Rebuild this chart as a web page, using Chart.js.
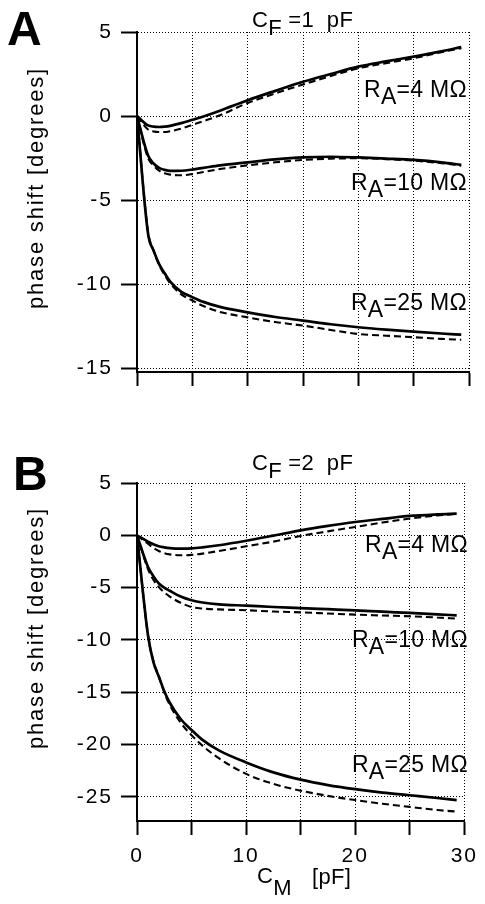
<!DOCTYPE html>
<html>
<head>
<meta charset="utf-8">
<script src="https://cdn.jsdelivr.net/npm/chart.js@4.4.1/dist/chart.umd.min.js"></script>
<style>
  html, body { margin: 0; padding: 0; background: #fff; }
  body { width: 485px; height: 904px; position: relative; overflow: hidden; }
  .panel { position: absolute; left: 0; width: 485px; }
  #panelA { top: 0; height: 420px; }
  #panelB { top: 440px; height: 464px; }
</style>
</head>
<body>
<div class="panel" id="panelA"><canvas id="chartA"></canvas></div>
<div class="panel" id="panelB"><canvas id="chartB"></canvas></div>
<script>
// Phase shift vs. membrane capacitance for three access resistances,
// two feedback capacitances. Solid = one model, dashed = the other.
const FONT = '"Liberation Sans", Arial, Helvetica, sans-serif';

// C_M [pF] where every curve is sampled
const cm = [0, 1, 1.5, 2, 2.5, 3, 4, 5, 6, 7.5, 10, 12.5, 15, 17.5, 20, 22.5, 25, 27.5, 29.3];

// panel A, C_F = 1 pF  (phase shift, degrees)
const a4Solid = [0, -0.55, -0.63, -0.65, -0.63, -0.58, -0.42, -0.22, -0.02, 0.32, 0.94, 1.5, 2.04, 2.5, 2.94, 3.25, 3.54, 3.85, 4.1];
const a4Dashed = [0, -0.8, -0.92, -0.95, -0.95, -0.9, -0.75, -0.52, -0.3, 0.05, 0.78, 1.35, 1.88, 2.38, 2.84, 3.15, 3.44, 3.8, 4.04];
const a10Solid = [0, -2.35, -2.82, -3.08, -3.2, -3.26, -3.25, -3.18, -3.08, -2.93, -2.75, -2.58, -2.46, -2.42, -2.46, -2.53, -2.61, -2.75, -2.9];
const a10Dashed = [0, -2.5, -2.95, -3.25, -3.4, -3.48, -3.52, -3.45, -3.33, -3.15, -2.93, -2.75, -2.61, -2.53, -2.51, -2.56, -2.65, -2.8, -2.95];
const a25Solid = [0, -7.0, -8.0, -8.8, -9.35, -9.85, -10.45, -10.77, -11.05, -11.35, -11.67, -11.95, -12.16, -12.38, -12.56, -12.7, -12.82, -12.93, -13.0];
const a25Dashed = [0, -6.9, -8.0, -8.85, -9.45, -9.95, -10.6, -10.97, -11.3, -11.65, -11.97, -12.25, -12.46, -12.72, -12.96, -13.06, -13.15, -13.25, -13.3];

// panel B, C_F = 2 pF
const b4Solid = [0, -0.6, -0.85, -1.05, -1.15, -1.22, -1.27, -1.25, -1.15, -0.95, -0.52, -0.03, 0.48, 0.9, 1.27, 1.57, 1.85, 2.0, 2.07];
const b4Dashed = [0, -0.8, -1.2, -1.5, -1.7, -1.82, -1.91, -1.87, -1.75, -1.5, -1.05, -0.6, -0.06, 0.38, 0.8, 1.22, 1.6, 1.9, 2.05];
const b10Solid = [0, -3.0, -3.9, -4.6, -5.0, -5.3, -5.85, -6.2, -6.42, -6.6, -6.72, -6.85, -6.95, -7.06, -7.17, -7.3, -7.42, -7.55, -7.65];
const b10Dashed = [0, -3.2, -4.25, -4.95, -5.45, -5.85, -6.45, -6.85, -7.0, -7.08, -7.16, -7.28, -7.36, -7.47, -7.58, -7.66, -7.74, -7.85, -7.96];
const b25Solid = [0, -9.5, -12.1, -13.5, -14.9, -16.0, -17.55, -18.6, -19.55, -20.55, -21.7, -22.65, -23.35, -23.87, -24.26, -24.58, -24.84, -25.1, -25.3];
const b25Dashed = [0, -9.5, -12.0, -13.5, -15.0, -16.2, -17.9, -19.1, -20.1, -21.3, -22.8, -23.75, -24.4, -24.9, -25.3, -25.65, -25.95, -26.25, -26.4];

// axes
const xLabelled = [0, 10, 20, 30];
const yTicksA = [-15, -10, -5, 0, 5];
const yTicksB = [-25, -20, -15, -10, -5, 0, 5];
const yRangeA = [-15.22, 5];
const yRangeB = [-27.3, 5];

function series(values, dashed) {
  return {
    data: values.map((y, i) => ({ x: cm[i], y })),
    borderColor: '#000',
    borderWidth: dashed ? 2.1 : 2.7,
    borderDash: dashed ? [7, 4] : [],
    pointRadius: 0,
    cubicInterpolationMode: 'monotone',
    fill: false,
  };
}

// text with an optional subscript part, e.g. R_A=4 MΩ
function drawLabel(ctx, item) {
  const size = item.size;
  ctx.save();
  ctx.letterSpacing = `${item.spacing ?? 0.3}px`;
  ctx.textBaseline = 'alphabetic';
  ctx.textAlign = 'left';
  ctx.font = `${item.bold ? 'bold ' : ''}${size}px ${FONT}`;
  const widths = item.parts.map((p) => ctx.measureText(p.t).width);
  const total = widths.reduce((a, b) => a + b, 0);
  ctx.translate(item.x, item.y);
  if (item.rotate) ctx.rotate(item.rotate);
  let x = item.align === 'right' ? -total : item.align === 'center' ? -total / 2 : 0;
  item.parts.forEach((p, i) => {
    ctx.fillText(p.t, x, p.sub ? (item.subShift ?? 7) : 0);
    x += widths[i];
  });
  ctx.restore();
}

const panelText = {
  id: 'panelText',
  beforeDraw(chart) {
    chart.ctx.letterSpacing = '2px';
  },
  afterDraw(chart, args, opts) {
    const ctx = chart.ctx;
    ctx.save();
    ctx.fillStyle = '#000';
    for (const item of opts.items) drawLabel(ctx, item);
    ctx.restore();
  },
};

function ra(value, x, y) {
  return { parts: [{ t: 'R' }, { t: 'A', sub: true }, { t: `=${value} MΩ` }], x, y, size: 23, align: 'right' };
}

function buildPanel(canvasId, datasets, yRange, yTicks, opts) {
  return new Chart(document.getElementById(canvasId), {
    type: 'line',
    data: { datasets },
    plugins: [panelText],
    options: {
      responsive: true,
      maintainAspectRatio: false,
      animation: false,
      events: [],
      layout: { padding: { top: opts.top, right: 16, bottom: opts.bottom, left: 0 } },
      scales: {
        x: {
          type: 'linear',
          min: 0,
          max: 30,
          afterFit: (scale) => { scale.height = opts.xHeight; },
          ticks: {
            display: opts.xLabels,
            stepSize: 5,
            autoSkip: false,
            maxRotation: 0,
            padding: 9,
            color: '#000',
            font: { family: FONT, size: 21 },
            callback: (v) => (xLabelled.includes(v) ? String(v) : ''),
          },
          grid: { color: '#000', lineWidth: 1, tickLength: 14, tickWidth: 2, tickColor: '#000' },
          border: { display: true, color: '#000', width: 2, dash: [1, 2] },
        },
        y: {
          type: 'linear',
          min: yRange[0],
          max: yRange[1],
          bounds: 'data',
          afterFit: (scale) => { scale.width = 137; },
          afterBuildTicks: (scale) => { scale.ticks = yTicks.map((value) => ({ value })); },
          ticks: {
            padding: 8,
            color: '#000',
            font: { family: FONT, size: 21 },
          },
          grid: { color: '#000', lineWidth: 1, tickLength: 16, tickWidth: 2, tickColor: '#000' },
          border: { display: true, color: '#000', width: 2, dash: [1, 2] },
        },
      },
      plugins: {
        legend: { display: false },
        tooltip: { enabled: false },
        panelText: { items: opts.items },
      },
    },
  });
}

const yTitle = { parts: [{ t: 'phase shift [degrees]' }], x: 43, y: 188, size: 22, spacing: 1.8, align: 'center', rotate: -Math.PI / 2 };

buildPanel('chartA', [
  series(a4Solid, false), series(a4Dashed, true),
  series(a10Solid, false), series(a10Dashed, true),
  series(a25Solid, false), series(a25Dashed, true),
], yRangeA, yTicksA, {
  top: 32, bottom: 32, xHeight: 16, xLabels: false,
  items: [
    { parts: [{ t: 'A' }], x: 7, y: 45, size: 48, bold: true, spacing: 0 },
    { parts: [{ t: 'C' }, { t: 'F', sub: true }, { t: ' =1  pF' }], x: 252, y: 27, size: 22, subShift: 8 },
    ra(4, 467, 97),
    ra(10, 467, 190),
    ra(25, 467, 310),
    yTitle,
  ],
});

buildPanel('chartB', [
  series(b4Solid, false), series(b4Dashed, true),
  series(b10Solid, false), series(b10Dashed, true),
  series(b25Solid, false), series(b25Dashed, true),
], yRangeB, yTicksB, {
  top: 43, bottom: 10, xHeight: 73, xLabels: true,
  items: [
    { parts: [{ t: 'B' }], x: 13, y: 50, size: 48, bold: true, spacing: 0 },
    { parts: [{ t: 'C' }, { t: 'F', sub: true }, { t: ' =2  pF' }], x: 252, y: 30, size: 22, subShift: 8 },
    ra(4, 468, 112),
    ra(10, 468, 207),
    ra(25, 468, 332),
    yTitle,
    { parts: [{ t: 'C' }, { t: 'M', sub: true }], x: 257, y: 443, size: 22, subShift: 12 },
    { parts: [{ t: '[pF]' }], x: 312, y: 444, size: 22 },
  ],
});
</script>
</body>
</html>
